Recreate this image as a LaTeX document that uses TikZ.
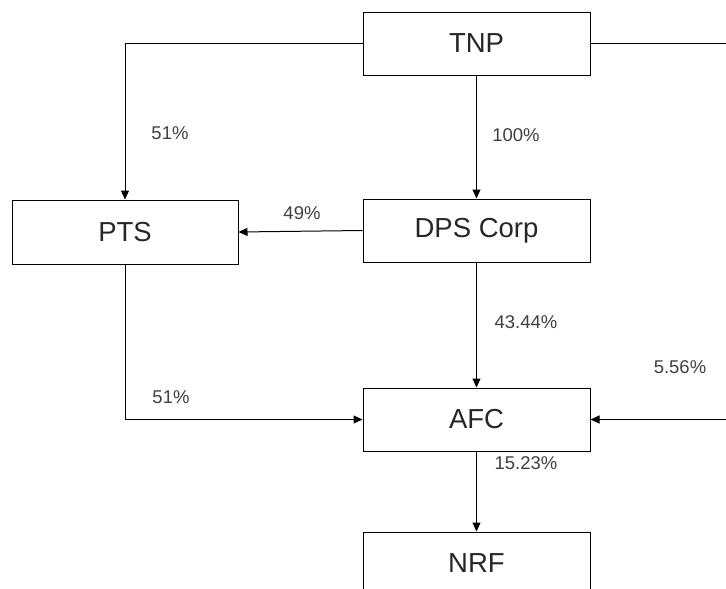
\documentclass[tikz,border=0pt]{standalone}
\usepackage{fontspec}
\setmainfont{Liberation Sans}
\usetikzlibrary{arrows.meta}
\begin{document}
\begin{tikzpicture}[x=1pt,y=1pt,
  box/.style={draw, line width=1pt, minimum width=227pt, minimum height=63pt, inner sep=0pt, font=\fontsize{27.5}{30}\selectfont, text=black!85},
  conn/.style={line width=1pt},
  arr/.style={line width=1pt, -{Triangle[length=9pt,width=8pt]}},
  pct/.style={font=\fontsize{18.5}{21}\selectfont, text=black!75, inner sep=0pt}]
\clip (0,0) rectangle (726,-589);
\fill[white] (0,0) rectangle (726,-589);
\node[box] (TNP) at (476.5,-43.5) {TNP};
\node[box] (DPS) at (476.5,-230.5) {DPS Corp};
\node[box, minimum width=226pt, minimum height=64pt] (PTS) at (125,-232) {PTS};
\node[box] (AFC) at (476.5,-419.5) {AFC};
\node[box] (NRF) at (476.5,-563.5) {NRF};
\coordinate (TR) at (730,-43.5);
\coordinate (AR) at (730,-419.5);
\draw[arr] (TNP.west) -| (PTS.north);
\draw[conn] (TNP.east) -- (TR);
\draw[arr] (TNP.south) -- (DPS.north);
\draw[arr] (DPS.west) -- (PTS.east);
\draw[arr] (PTS.south) |- (AFC.west);
\draw[arr] (DPS.south) -- (AFC.north);
\draw[arr] (AR) -- (AFC.east);
\draw[arr] (AFC.south) -- (NRF.north);
\node[pct] (l1) at (170,-133) {51\%};
\node[pct] (l2) at (516,-135) {100\%};
\node[pct] (l3) at (302,-213) {49\%};
\node[pct] (l4) at (526,-322) {43.44\%};
\node[pct] (l5) at (171,-397) {51\%};
\node[pct] (l6) at (680,-367) {5.56\%};
\node[pct] (l7) at (526,-463) {15.23\%};
\end{tikzpicture}
\end{document}
